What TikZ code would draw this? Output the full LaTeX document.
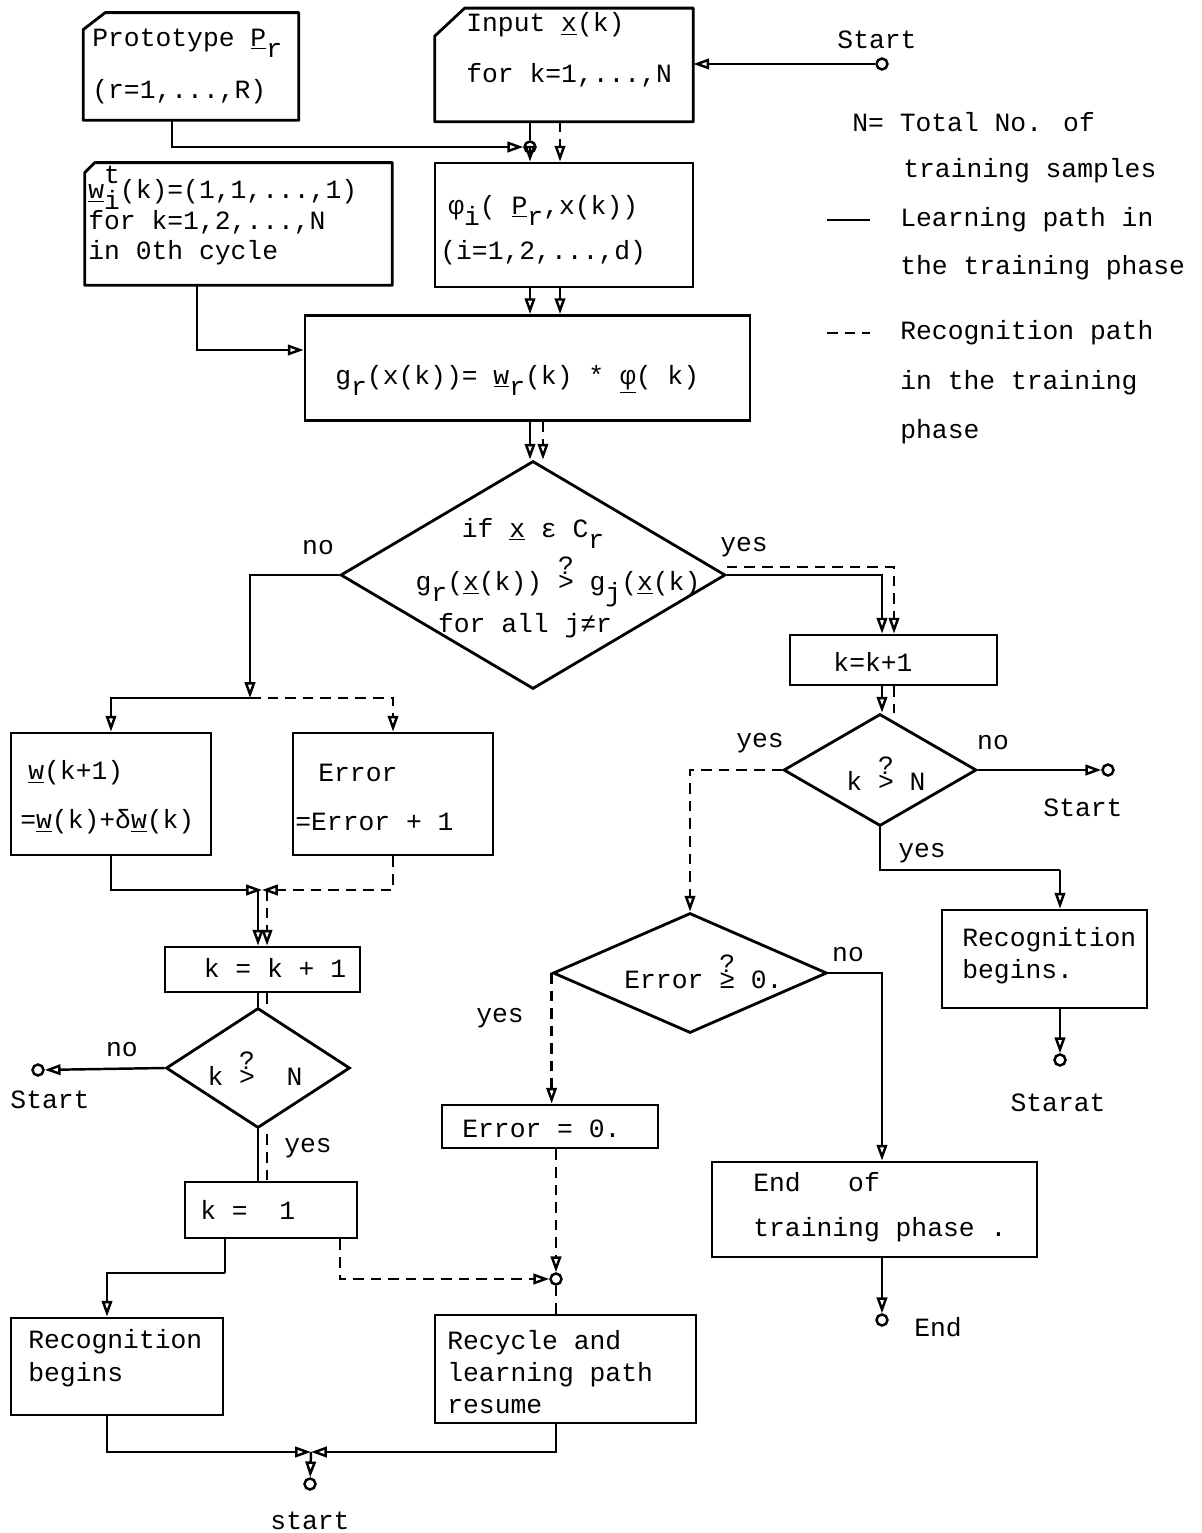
\documentclass[tikz,border=0pt]{standalone}
\usepackage{fontspec}
\setmainfont{Liberation Mono}
\usetikzlibrary{arrows.meta,shapes.geometric}

\newcommand{\uln}[1]{\underline{#1}}
\newcommand{\lsub}[1]{\raisebox{-0.42em}{#1}}
\newcommand{\qgt}[1]{\makebox[0pt][l]{\raisebox{0.62em}{?}}#1}
\newcommand{\subsup}[2]{\makebox[0pt][l]{\raisebox{0.55em}{#2}}\raisebox{-0.42em}{#1}}

\tikzset{
  lrn/.style={line width=1.4pt},
  rec/.style={line width=1.4pt, dash pattern=on 6pt off 4pt},
  frame/.style={line width=1.6pt, line join=round},
  box/.style={draw, line width=1.6pt, rectangle, inner sep=0pt},
  cbox/.style={rectangle, inner sep=0pt},
  dia/.style={draw, line width=1.6pt, diamond, inner sep=0pt},
  dot/.style={draw, circle, line width=1.4pt, inner sep=0pt, minimum size=0.22cm},
  txt/.style={anchor=west, inner sep=0pt, font=\fontsize{15}{18}\selectfont},
  ctxt/.style={inner sep=0pt, font=\fontsize{15}{18}\selectfont},
  >={Triangle[open,length=9pt,width=6pt]}
}

\begin{document}
\begin{tikzpicture}[x=0.02cm,y=-0.02cm]
\useasboundingbox (0,0) rectangle (1202,1533);

% boxes
\node[cbox, minimum width=4.3cm, minimum height=2.14cm] (proto) at (191,66.5) {};
\node[cbox, minimum width=5.16cm, minimum height=2.26cm] (input) at (564,65) {};
\node[cbox, minimum width=6.14cm, minimum height=2.44cm] (wini) at (238.5,224) {};
\draw[frame] (proto.south west) -- ([yshift=-0.34cm]proto.north west) -- ([xshift=0.44cm]proto.north west) -- (proto.north east) -- (proto.south east) -- cycle;
\draw[frame] (input.south west) -- ([yshift=-0.56cm]input.north west) -- ([xshift=0.6cm]input.north west) -- (input.north east) -- (input.south east) -- cycle;
\draw[frame] (wini.south west) -- ([yshift=-0.2cm]wini.north west) -- ([xshift=0.2cm]wini.north west) -- (wini.north east) -- (wini.south east) -- cycle;
\node[box, minimum width=5.16cm, minimum height=2.48cm] (phi) at (564,225) {};
\node[box, minimum width=8.9cm, minimum height=2.1cm] (gbox) at (527.5,368) {};
\node[dia, minimum width=7.7cm, minimum height=4.56cm] (dia1) at (533,575) {};
\node[box, minimum width=4cm, minimum height=2.44cm] (wupd) at (111,794) {};
\node[box, minimum width=4cm, minimum height=2.44cm] (err) at (393,794) {};
\node[box, minimum width=3.9cm, minimum height=0.9cm] (kl) at (262.5,969.5) {};
\node[dia, minimum width=3.68cm, minimum height=2.4cm] (dia4) at (258,1068) {};
\node[box, minimum width=3.44cm, minimum height=1.12cm] (k1) at (271,1210) {};
\node[box, minimum width=4.24cm, minimum height=1.94cm] (recL) at (117,1366.5) {};
\node[box, minimum width=5.22cm, minimum height=2.16cm] (recy) at (565.5,1369) {};
\node[box, minimum width=4.14cm, minimum height=1cm] (kr) at (893.5,660) {};
\node[dia, minimum width=3.86cm, minimum height=2.24cm] (dia2) at (880,770) {};
\node[dia, minimum width=5.48cm, minimum height=2.4cm] (dia3) at (690,973) {};
\node[box, minimum width=4.32cm, minimum height=0.86cm] (err0) at (550,1126.5) {};
\node[box, minimum width=4.1cm, minimum height=1.96cm] (recR) at (1044.5,959) {};
\node[box, minimum width=6.5cm, minimum height=1.9cm] (endb) at (874.5,1209.5) {};

% texts in the boxes
\node[txt] (tp1) at (92,43) {Prototype \uln{P}\lsub{r}};
\node[txt] (tp2) at (92,92) {(r=1,...,R)};
\node[txt] (ti1) at (466,25) {Input \uln{x}(k)};
\node[txt] (ti2) at (466,75) {for k=1,...,N};
\node[txt] (tw1) at (88,188) {\uln{w}\subsup{i}{t}(k)=(1,1,...,1)};
\node[txt] (tw2) at (88,222) {for k=1,2,...,N};
\node[txt] (tw3) at (88,253) {in 0th cycle};
\node[txt] (tf1) at (448,210) {φ\lsub{i}( \uln{P}\lsub{r},x(k))};
\node[txt] (tf2) at (440,253) {(i=1,2,...,d)};
\node[txt] (tg) at (335,380) {g\lsub{r}(x(k))= \uln{w}\lsub{r}(k) * \uln{φ}( k)};
\node[ctxt] (td1) at (533,533) {if \uln{x} ε C\lsub{r}};
\node[ctxt] (td2) at (558,582) {g\lsub{r}(\uln{x}(k)) \qgt{>} g\lsub{j}(\uln{x}(k)};
\node[ctxt] (td3) at (525,626) {for all j≠r};
\node[txt] (tu1) at (28,773) {\uln{w}(k+1)};
\node[txt] (tu2) at (20,822) {=\uln{w}(k)+δ\uln{w}(k)};
\node[txt] (te1) at (318,773) {Error};
\node[txt] (te2) at (295,822) {=Error + 1};
\node[ctxt] (tk1) at (275,968) {k = k + 1};
\node[ctxt] (tk2) at (255,1069) {k \qgt{>}\ \ N};
\node[txt] (tk3) at (200,1210) {k =\ \ 1};
\node[txt] (tr1) at (28,1342) {Recognition};
\node[txt] (tr2) at (28,1375) {begins};
\node[txt] (ty1) at (447,1343) {Recycle and};
\node[txt] (ty2) at (447,1375) {learning path};
\node[txt] (ty3) at (447,1407) {resume};
\node[ctxt] (tk4) at (873,662) {k=k+1};
\node[ctxt] (tk5) at (886,774) {k \qgt{>}\ N};
\node[txt] (te3) at (624,972) {Error \qgt{≥} 0.};
\node[txt] (te4) at (462,1129) {Error = 0.};
\node[txt] (tr3) at (962,940) {Recognition};
\node[txt] (tr4) at (962,972) {begins.};
\node[txt] (tn1) at (753,1182) {End\ \ \ of};
\node[txt] (tn2) at (753,1230) {training phase .};

% terminals and junctions
\node[dot] (st1) at (882,64) {};
\node[dot] (j1) at (530,147) {};
\node[dot] (st2) at (1108,770) {};
\node[dot] (st3) at (1060,1060) {};
\node[dot] (st4) at (882,1320) {};
\node[dot] (st6) at (38,1070) {};
\node[dot] (j2) at (556,1279) {};
\node[dot] (st5) at (310,1484) {};
\coordinate (b0) at (172,0);
\coordinate (dA) at (560,0);
\coordinate (dB) at (543,0);
\coordinate (sC) at (882,0);
\coordinate (dC) at (894,0);
\coordinate (b1) at (197,350);
\coordinate (b2) at (250,698);
\coordinate (b4) at (1060,870);
\coordinate (b5) at (225,1273);
\coordinate (b6) at (107,0);
\coordinate (dD) at (340,0);
\coordinate (j3) at (311,1452);
\coordinate (j4) at (262,890);
\coordinate (sL) at (258,0);
\coordinate (dL) at (267,0);

% labels
\node[ctxt] (lst1) at (877,40) {Start};
\node[ctxt] (lno1) at (318,548) {no};
\node[ctxt] (lye1) at (744,547) {yes};
\node[ctxt] (lno4) at (122,1050) {no};
\node[ctxt] (lst6) at (50,1100) {Start};
\node[ctxt] (lye4) at (308,1148) {yes};
\node[ctxt] (lye2) at (760,743) {yes};
\node[ctxt] (lno2) at (993,743) {no};
\node[ctxt] (lst2) at (1083,808) {Start};
\node[ctxt] (lye3) at (922,853) {yes};
\node[ctxt] (lno3) at (848,955) {no};
\node[ctxt] (lye5) at (500,1018) {yes};
\node[ctxt] (lst3) at (1058,1103) {Starat};
\node[ctxt] (lend) at (938,1327) {End};
\node[ctxt] (lst5) at (310,1521) {start};

% legend
\node[txt] (lg1) at (852,122) {N= Total No. of};
\node[txt] (lg2) at (903,171) {training samples};
\node[txt] (lg3) at (900,220) {Learning path in};
\node[txt] (lg4) at (900,268) {the training phase};
\node[txt] (lg5) at (900,333) {Recognition path};
\node[txt] (lg6) at (900,383) {in the training};
\node[txt] (lg7) at (900,432) {phase};
\draw[lrn] (827,220) -- (870,220);
\draw[rec] (827,333) -- (870,333);

% connectors
\draw[lrn,->] (st1) -- (st1 -| input.east);
\draw[lrn,->] (proto.south -| b0) |- (j1);
\draw[lrn] (input.south -| j1) -- (j1);
\draw[lrn,->] (j1) -- (j1 |- phi.north);
\draw[rec,->] (input.south -| dA) -- (phi.north -| dA);
\draw[lrn,->] (wini.south -| b1) -- (b1) -- (b1 -| gbox.west);
\draw[lrn,->] (phi.south -| j1) -- (gbox.north -| j1);
\draw[rec,->] (phi.south -| dA) -- (gbox.north -| dA);
\draw[lrn,->] (gbox.south -| j1) -- (dia1.north -| j1);
\draw[rec,->] (gbox.south -| dB) -- (dia1.north -| dB);
\draw[lrn,->] (dia1.west) -| (b2);
\draw[lrn,->] (b2) -| (wupd.north);
\draw[rec,->] (b2) -| (err.north);
\draw[lrn,->] (dia1.east) -| (kr.north -| sC);
\draw[rec,->] ([yshift=0.16cm]dia1.east) -| (kr.north -| dC);
\draw[lrn,->] (kr.south -| sC) -- (dia2.north -| sC);
\draw[rec] (kr.south -| dC) -- (dia2.north -| dC);
\draw[lrn,->] (dia2.east) -- (st2);
\draw[rec,->] (dia2.west) -| (dia3.north);
\draw[lrn] (dia2.south) |- (b4);
\draw[lrn,->] (b4) -- (b4 |- recR.north);
\draw[lrn,->] (recR.south -| b4) -- (st3);
\draw[lrn,->] (dia3.east) -| (endb.north -| sC);
\draw[lrn,->] (endb.south -| sC) -- (st4);
\draw[rec,->] (dia3.west) -- (dia3.west |- err0.north);
\draw[rec,->] (err0.south -| j2) -- (j2);
\draw[rec] (j2) -- (j2 |- recy.north);
\draw[lrn,->] (wupd.south) |- (j4);
\draw[rec,->] (err.south) |- (j4);
\draw[lrn,->] (j4 -| sL) -- (kl.north -| sL);
\draw[rec,->] (j4 -| dL) -- (kl.north -| dL);
\draw[lrn] (kl.south -| sL) -- (dia4.north -| sL);
\draw[rec] (kl.south -| dL) -- (dia4.north -| dL);
\draw[lrn,->] (dia4.west) -- (st6);
\draw[lrn] (dia4.south) -- (dia4.south |- k1.north);
\draw[rec] ([yshift=-0.1cm]dia4.south -| dL) -- (k1.north -| dL);
\draw[lrn] (k1.south -| b5) -- (b5);
\draw[lrn,->] (b5) -| (recL.north -| b6);
\draw[rec,->] (k1.south -| dD) |- (j2);
\draw[lrn,->] (recL.south -| b6) |- (j3);
\draw[lrn,->] (recy.south -| j2) |- (j3);
\draw[lrn,->] (j3) -- (st5);
\end{tikzpicture}
\end{document}
